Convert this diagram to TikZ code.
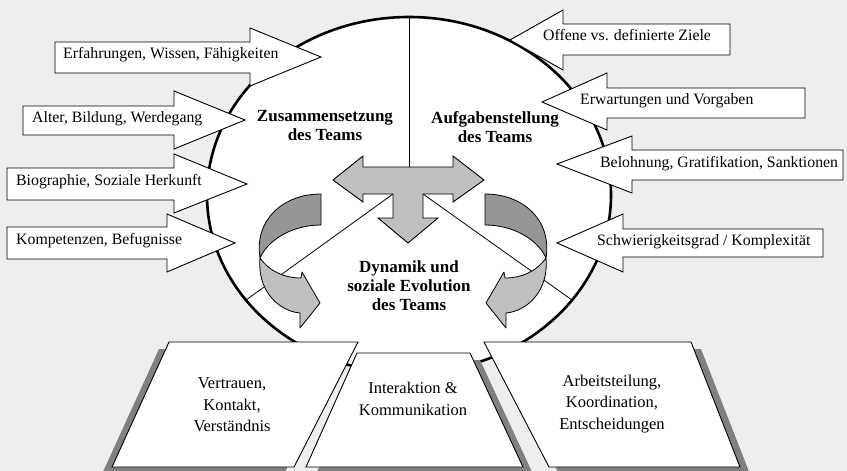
\documentclass[tikz,border=0pt]{standalone}
\usepackage{fontspec}
\setmainfont{Liberation Serif}
\definecolor{bgc}{RGB}{238,238,238}
\definecolor{tgray}{RGB}{192,192,192}
\definecolor{dgray}{RGB}{150,150,150}
\definecolor{shadowc}{RGB}{128,128,128}
\newcommand{\blockarrow}[8]{\draw[blockarr] (#1,#2) -- (#4,#2) -- (#4,#5) -- (#7,#8) -- (#4,#6) -- (#4,#3) -- (#1,#3) -- cycle;}
\newcommand{\ribbonarrow}{%
  \draw[ribline, fill=dgray] (321,194) .. controls (283,194) and (254,220) .. (260,258)
     .. controls (268,240) and (292,225) .. (321,225) -- cycle;
  \draw[ribline, fill=tgray] (260,258) .. controls (270,272) and (285,278) .. (301,278)
     -- (302,272) -- (320,303) -- (300,328) -- (300,313)
     .. controls (278,311) and (257,290) .. (260,258) -- cycle;}
\begin{document}
\begin{tikzpicture}[x=1pt,y=-1pt,
  blockarr/.style={draw=black, fill=white, line width=0.9pt, line join=miter},
  ribline/.style={draw=black, line width=0.8pt, line join=round},
  thinline/.style={draw=black, line width=0.8pt},
  arrtxt/.style={inner sep=0pt, anchor=base west, font=\fontsize{15.8}{18}\selectfont},
  bold/.style={inner sep=0pt, align=center, font=\fontsize{17}{19}\selectfont\bfseries},
  traptxt/.style={inner sep=0pt, align=center, font=\fontsize{16.5}{21.5}\selectfont},
  trap/.style={draw=black, fill=white, line width=0.9pt, line join=miter},
  trapshadow/.style={fill=shadowc}]
\fill[bgc] (0,0) rectangle (847,471);
\useasboundingbox (0,0) rectangle (847,471);

% main ellipse
\draw[line width=2.6pt, fill=white] (409,195) ellipse [x radius=202pt, y radius=178pt];
\coordinate (ctop) at (409,17);
\coordinate (tbar) at (409,167);
\coordinate (tl) at (393,194);
\coordinate (tr) at (423,194);
\coordinate (el) at (246,300);
\coordinate (er) at (572,300);
\draw[thinline] (ctop) -- (tbar);
\draw[thinline] (tl) -- (el);
\draw[thinline] (tr) -- (er);

% T arrow
\draw[blockarr, fill=tgray] (333,180) -- (363,156) -- (363,167) -- (453,167) -- (453,156)
  -- (484,180) -- (453,202) -- (453,194) -- (423,194) -- (423,218) -- (438,218)
  -- (408,243) -- (378,218) -- (393,218) -- (393,194) -- (363,194) -- (363,202) -- cycle;

% curved arrows
\ribbonarrow
\begin{scope}[xshift=806pt, xscale=-1]
\ribbonarrow
\end{scope}

% circle labels
\node[bold] (zus) at (325,126) {Zusammensetzung\\des Teams};
\node[bold] (auf) at (495,127) {Aufgabenstellung\\des Teams};
\node[bold] (dyn) at (409,286) {Dynamik und\\soziale Evolution\\des Teams};

% left arrows
\blockarrow{55}{42}{73}{250}{28}{86}{321}{57}
\blockarrow{23}{106}{135}{174}{91}{149}{245}{120}
\blockarrow{7}{168}{200}{174}{154}{213}{247}{184}
\blockarrow{7}{227}{259}{167}{214}{272}{235}{243}
\node[arrtxt] (l1) at (63,58) {Erfahrungen, Wissen, Fähigkeiten};
\node[arrtxt] (l2) at (32,122) {Alter, Bildung, Werdegang};
\node[arrtxt] (l3) at (16,185) {Biographie, Soziale Herkunft};
\node[arrtxt] (l4) at (16,244) {Kompetenzen, Befugnisse};

% right arrows
\blockarrow{730}{24}{55}{563}{10}{70}{510}{40}
\blockarrow{805}{88}{118}{607}{73}{130}{542}{102}
\blockarrow{843}{150}{180}{632}{136}{193}{557}{164}
\blockarrow{823}{229}{257}{623}{214}{272}{557}{243}
\node[arrtxt] (r1) at (543,41) {Offene vs. definierte Ziele};
\node[arrtxt] (r2) at (580,104) {Erwartungen und Vorgaben};
\node[arrtxt] (r3) at (600,167) {Belohnung, Gratifikation, Sanktionen};
\node[arrtxt] (r4) at (597,245) {Schwierigkeitsgrad / Komplexität};

% trapezoid shadows
\fill[trapshadow] (159,349) -- (348,349) -- (284,474) -- (102,474) -- cycle;
\fill[trapshadow] (367,360) -- (480,360) -- (533,474) -- (316,474) -- cycle;
\fill[trapshadow] (494,349) -- (701,349) -- (750,474) -- (559,474) -- cycle;
% trapezoids
\draw[trap] (169,342) -- (358,342) -- (294,467) -- (112,467) -- cycle;
\draw[trap] (357,353) -- (470,353) -- (523,467) -- (306,467) -- cycle;
\draw[trap] (484,342) -- (691,342) -- (740,467) -- (549,467) -- cycle;
\node[traptxt] (t1) at (232,405) {Vertrauen,\\Kontakt,\\Verständnis};
\node[traptxt] (t2) at (413,399) {Interaktion \&\\Kommunikation};
\node[traptxt] (t3) at (612,404) {Arbeitsteilung,\\Koordination,\\Entscheidungen};
\end{tikzpicture}
\end{document}
